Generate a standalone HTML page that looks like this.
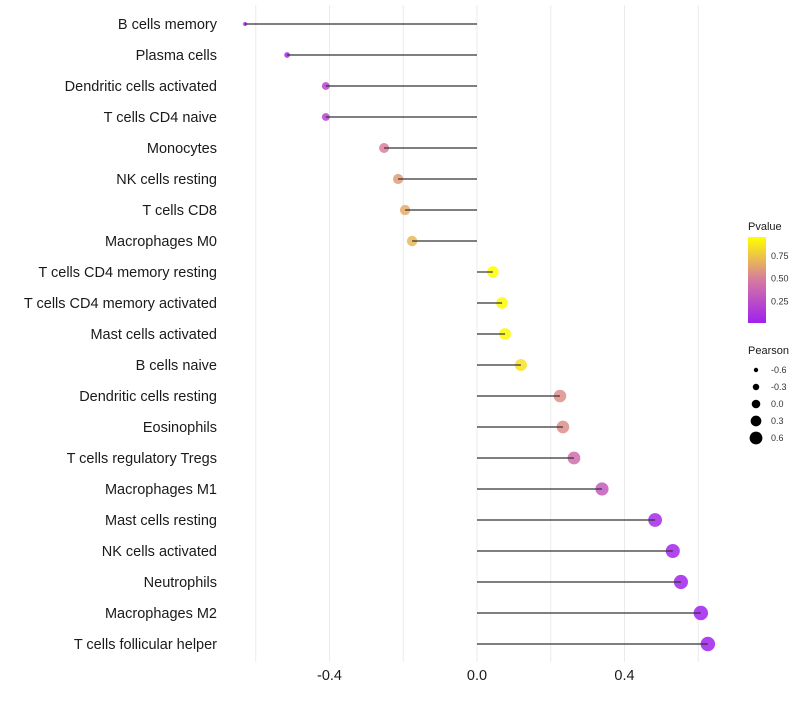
<!DOCTYPE html>
<html><head><meta charset="utf-8"><style>
body{margin:0;background:#fff;font-family:"Liberation Sans",sans-serif}
svg text{font-family:"Liberation Sans",sans-serif}
</style></head><body>
<svg id="chart" width="800" height="700"></svg>
<script>
const categories=["B cells memory","Plasma cells","Dendritic cells activated","T cells CD4 naive","Monocytes","NK cells resting","T cells CD8","Macrophages M0","T cells CD4 memory resting","T cells CD4 memory activated","Mast cells activated","B cells naive","Dendritic cells resting","Eosinophils","T cells regulatory  Tregs ","Macrophages M1","Mast cells resting","NK cells activated","Neutrophils","Macrophages M2","T cells follicular helper"];
const pearson=[-0.629,-0.515,-0.41,-0.41,-0.252,-0.214,-0.195,-0.176,0.043,0.068,0.076,0.119,0.225,0.233,0.263,0.339,0.483,0.531,0.553,0.607,0.626];
const pvalues=[0.0,0.05,0.18,0.18,0.5,0.6,0.65,0.7,0.95,0.93,0.93,0.85,0.55,0.55,0.4,0.3,0.05,0.03,0.02,0.01,0.01];
const xTicks=[-0.4,0.0,0.4];
const xTickLabels=["-0.4","0.0","0.4"];
const gridVals=[-0.6,-0.4,-0.2,0,0.2,0.4,0.6];
const legendSizes=[-0.6,-0.3,0.0,0.3,0.6];
const legendSizeLabels=["-0.6","-0.3","0.0","0.3","0.6"];
const colorTicks=[0.25,0.5,0.75];
const colorTickLabels=["0.25","0.50","0.75"];

const NS="http://www.w3.org/2000/svg";
const svg=document.getElementById('chart');
function mk(tag,attrs,parent){const e=document.createElementNS(NS,tag);for(const k in attrs)e.setAttribute(k,attrs[k]);(parent||svg).appendChild(e);return e;}
const x=v=>477+v*368.75;
const y=i=>24+i*31;
const rA=[[-0.65,1.8],[-0.5,3],[-0.4,4],[-0.25,5],[0.1,6],[0.65,7.3]];
function r(v){if(v<=rA[0][0])return rA[0][1];for(let i=0;i<rA.length-1;i++){if(v<=rA[i+1][0]){const t=(v-rA[i][0])/(rA[i+1][0]-rA[i][0]);return rA[i][1]+t*(rA[i+1][1]-rA[i][1]);}}return rA[rA.length-1][1];}
const lr=v=>4.3+v*3.5;
const stops=[[0,[160,32,240]],[0.5,[217,128,155]],[0.95,[255,255,0]]];
function col(p){p=Math.max(0,Math.min(0.95,p));for(let i=0;i<stops.length-1;i++){const[a,ca]=stops[i],[b,cb]=stops[i+1];if(p<=b){const t=(p-a)/(b-a);return `rgb(${ca.map((c,j)=>Math.round(c+(cb[j]-c)*t)).join(',')})`;}}return 'rgb(255,255,0)';}

gridVals.forEach(v=>{const g=mk('line',{x1:x(v),x2:x(v),y1:5,y2:662,stroke:'#ebebeb','stroke-width':1});

});
categories.forEach((c,i)=>{
 const t=mk('text',{x:217,y:y(i)+5,'text-anchor':'end','font-size':14.5,fill:'#1a1a1a'});t.textContent=c;
 
 
 const d=mk('circle',{cx:x(pearson[i]),cy:y(i),r:r(pearson[i]),fill:col(pvalues[i]),'fill-opacity':0.85});
 
 
 const l=mk('line',{x1:x(0),x2:x(pearson[i]),y1:y(i),y2:y(i),stroke:'#333','stroke-width':1.2});
 
 
});
xTicks.forEach((v,i)=>{const t=mk('text',{x:x(v),y:680,'text-anchor':'middle','font-size':14.5,fill:'#1a1a1a'});t.textContent=xTickLabels[i];

});
const defs=mk('defs',{});const lg=mk('linearGradient',{id:'pg',x1:0,y1:1,x2:0,y2:0},defs);
[[0,col(0)],[0.5,col(0.47)],[1,col(0.95)]].forEach(s=>mk('stop',{offset:s[0],'stop-color':s[1]},lg));
const pt=mk('text',{x:748,y:230,'font-size':11,fill:'#1a1a1a'});pt.textContent='Pvalue';


const bar=mk('rect',{x:748,y:237,width:18,height:86,fill:'url(#pg)'});


const cy=p=>323-(p-0)/0.95*86;
colorTicks.forEach((p,i)=>{const t=mk('text',{x:771,y:cy(p)+4,'font-size':9,fill:'#333'});t.textContent=colorTickLabels[i];

});
const st=mk('text',{x:748,y:354,'font-size':11,fill:'#1a1a1a'});st.textContent='Pearson';


legendSizes.forEach((v,i)=>{const yy=370+i*17;
 const c=mk('circle',{cx:756,cy:yy,r:lr(v),fill:'#000'});
 
 
 const t=mk('text',{x:771,y:yy+3,'font-size':9,fill:'#333'});t.textContent=legendSizeLabels[i];
 
 });
</script>
</body></html>
